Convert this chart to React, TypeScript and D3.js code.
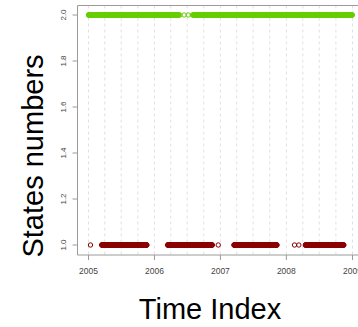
import React from "react";
import * as d3 from "d3";

// Runs of consecutive days spent in each state, plus isolated days
const stateTwoRuns: [string, string][] = [
  ["2005-01-01", "2006-05-15"],
  ["2006-08-05", "2008-12-31"],
];
const stateTwoSingles: string[] = ["2006-05-22", "2006-06-14", "2006-07-07", "2006-07-30"];

const stateOneRuns: [string, string][] = [
  ["2005-03-15", "2005-11-20"],
  ["2006-03-15", "2006-11-17"],
  ["2007-03-17", "2007-11-10"],
  ["2008-04-15", "2008-11-14"],
];
const stateOneSingles: string[] = ["2005-01-12", "2006-12-20", "2008-02-15", "2008-03-10"];

const yTicks = [1.0, 1.2, 1.4, 1.6, 1.8, 2.0];
const yearTicks = ["2005", "2006", "2007", "2008", "2009"];

const parse = d3.utcParse("%Y-%m-%d");

function expand(runs: [string, string][], singles: string[]): Date[] {
  const days: Date[] = [];
  runs.forEach(([a, b]) => {
    const s = parse(a) as Date;
    const e = parse(b) as Date;
    days.push(...d3.utcDay.range(s, d3.utcDay.offset(e, 1)));
  });
  singles.forEach((s) => days.push(parse(s) as Date));
  return days;
}

const W = 358;
const H = 327;

export default function App() {
  const x = d3
    .scaleUtc()
    .domain([parse("2005-01-01") as Date, parse("2009-01-01") as Date])
    .range([88.5, 352.5]);
  const y = d3.scaleLinear().domain([1, 2]).range([245, 15]);

  const box = { left: 77.5, top: 5.5, bottom: 255 };
  const quarters = d3.utcMonth.every(3)!.range(
    parse("2005-01-01") as Date,
    parse("2009-01-02") as Date
  );

  const twos = expand(stateTwoRuns, stateTwoSingles);
  const ones = expand(stateOneRuns, stateOneSingles);

  const font = "Liberation Sans, Arial, sans-serif";
  const axisCol = "#9a9a9a";

  return (
    <svg
      width={W}
      height={H}
      style={{ position: "absolute", left: 0, top: 0, background: "#fff" }}
      fontFamily={font}
    >
      {/* quarterly grid */}
      {quarters.map((q, i) => (
        <line
          key={"g" + i}
          x1={x(q)}
          x2={x(q)}
          y1={box.top}
          y2={box.bottom}
          stroke="#d9d9d9"
          strokeWidth={0.8}
          strokeDasharray="3,3"
        />
      ))}

      {/* plot frame */}
      <path
        d={`M${W + 2},${box.top}H${box.left}V${box.bottom}H${W + 2}`}
        fill="none"
        stroke={axisCol}
        strokeWidth={1}
      />

      {/* y axis */}
      {yTicks.map((t) => (
        <g key={"y" + t}>
          <line x1={box.left} x2={box.left - 5} y1={y(t)} y2={y(t)} stroke={axisCol} />
          <text
            transform={`translate(${box.left - 12},${y(t)}) rotate(-90)`}
            textAnchor="middle"
            fontSize={8}
            fill="#444"
          >
            {t.toFixed(1)}
          </text>
        </g>
      ))}

      {/* x axis */}
      {yearTicks.map((t) => {
        const xv = x(parse(t + "-01-01") as Date);
        return (
          <g key={"x" + t}>
            <line x1={xv} x2={xv} y1={box.bottom} y2={box.bottom + 5} stroke={axisCol} />
            <text x={xv} y={274} textAnchor="middle" fontSize={8.5} fill="#444">
              {t}
            </text>
          </g>
        );
      })}

      {/* state points */}
      <g fill="none" strokeWidth={1}>
        {twos.map((d, i) => (
          <circle key={"t" + i} cx={x(d)} cy={y(2)} r={2.2} stroke="#66CD00" />
        ))}
        {ones.map((d, i) => (
          <circle key={"o" + i} cx={x(d)} cy={y(1)} r={2.2} stroke="#8B0000" />
        ))}
      </g>

      {/* axis titles */}
      <text x={210} y={319} textAnchor="middle" fontSize={29} fill="#000">
        Time Index
      </text>
      <text
        transform="translate(43,156) rotate(-90)"
        textAnchor="middle"
        fontSize={29}
        fill="#000"
      >
        States numbers
      </text>
    </svg>
  );
}
